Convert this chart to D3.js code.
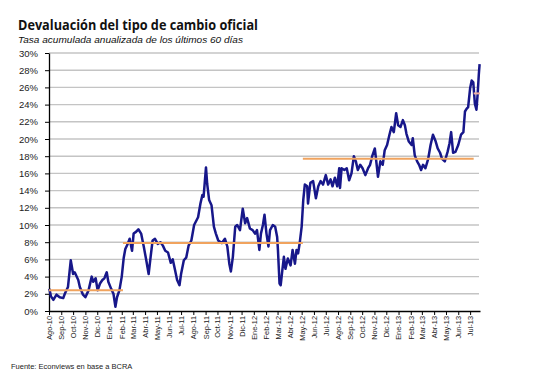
<!DOCTYPE html>
<html>
<head>
<meta charset="utf-8">
<script src="https://cdn.jsdelivr.net/npm/d3@7"></script>
<style>
  body { margin: 0; background: #fff; }
  svg { display: block; }
</style>
</head>
<body>
<div id="chart"></div>
<script>
// devaluacion anualizada (60 dias), %
var fechas = [
  "2010-08-02","2010-08-06","2010-08-12","2010-08-20","2010-08-28","2010-09-06","2010-09-10","2010-09-18","2010-09-25",
  "2010-10-01","2010-10-05","2010-10-14","2010-10-18","2010-10-26","2010-11-01","2010-11-09","2010-11-17","2010-11-21",
  "2010-11-27","2010-12-02","2010-12-08","2010-12-14","2010-12-19","2010-12-25","2010-12-29","2011-01-05","2011-01-11",
  "2011-01-16","2011-01-20","2011-01-26","2011-02-01","2011-02-06","2011-02-10","2011-02-16","2011-02-21","2011-02-27",
  "2011-03-03","2011-03-09","2011-03-15","2011-03-22","2011-03-29","2011-04-04","2011-04-10","2011-04-15","2011-04-20",
  "2011-04-26","2011-05-03","2011-05-10","2011-05-16","2011-05-22","2011-05-29","2011-06-05","2011-06-10","2011-06-16",
  "2011-06-21","2011-06-27","2011-07-01","2011-07-08","2011-07-14","2011-07-20","2011-07-27","2011-08-03","2011-08-13",
  "2011-08-19","2011-08-24","2011-08-27","2011-09-02","2011-09-05","2011-09-10","2011-09-16","2011-09-22","2011-09-27",
  "2011-10-03","2011-10-12","2011-10-20","2011-10-26","2011-10-31","2011-11-04","2011-11-09","2011-11-15","2011-11-20",
  "2011-11-27","2011-12-04","2011-12-10","2011-12-15","2011-12-22","2011-12-29","2012-01-04","2012-01-09","2012-01-15",
  "2012-01-19","2012-01-24","2012-01-28","2012-02-02","2012-02-07","2012-02-11","2012-02-18","2012-02-24","2012-02-29",
  "2012-03-02","2012-03-06","2012-03-09","2012-03-13","2012-03-17","2012-03-21","2012-03-27","2012-04-03","2012-04-08",
  "2012-04-14","2012-04-18","2012-04-22","2012-04-26","2012-05-01","2012-05-05","2012-05-09","2012-05-15","2012-05-17",
  "2012-05-23","2012-05-30","2012-06-06","2012-06-12","2012-06-18","2012-06-24","2012-07-01","2012-07-07","2012-07-13",
  "2012-07-18","2012-07-24","2012-07-30","2012-08-04","2012-08-06","2012-08-10","2012-08-17","2012-08-23","2012-08-29",
  "2012-09-04","2012-09-10","2012-09-15","2012-09-20","2012-09-26","2012-10-02","2012-10-09","2012-10-16","2012-10-21",
  "2012-10-27","2012-11-02","2012-11-05","2012-11-10","2012-11-16","2012-11-22","2012-11-27","2012-12-03","2012-12-09",
  "2012-12-14","2012-12-20","2012-12-26","2012-12-31","2013-01-06","2013-01-12","2013-01-17","2013-01-21","2013-01-27",
  "2013-02-03","2013-02-06","2013-02-11","2013-02-17","2013-02-22","2013-02-27","2013-03-04","2013-03-10","2013-03-17",
  "2013-03-23","2013-03-29","2013-04-05","2013-04-10","2013-04-16","2013-04-21","2013-04-28","2013-05-05","2013-05-10",
  "2013-05-14","2013-05-19","2013-05-25","2013-06-01","2013-06-08","2013-06-14","2013-06-18","2013-06-22","2013-06-26",
  "2013-07-01","2013-07-05","2013-07-09","2013-07-13","2013-07-17","2013-07-20","2013-07-23","2013-07-25"
];
var valores = [
  2.6, 1.7, 1.3, 1.9, 1.6, 1.5, 2.0, 2.8, 5.9,
  4.3, 4.5, 3.6, 2.8, 1.9, 1.6, 2.4, 4.0, 3.4,
  3.8, 2.4, 3.2, 3.6, 3.8, 4.5, 3.4, 2.6, 2.0,
  0.5, 1.6, 2.4, 4.0, 6.2, 7.2, 7.8, 8.4, 7.0,
  9.0, 9.2, 9.5, 9.0, 7.4, 5.9, 4.3, 6.3, 8.2,
  8.4, 7.8, 8.0, 7.6, 7.0, 6.8, 5.6, 6.0, 4.7,
  3.6, 3.0, 4.3, 5.9, 6.2, 7.6, 8.2, 10.0, 10.9,
  12.5, 13.5, 13.3, 16.7, 14.8, 12.9, 12.3, 9.8, 9.0,
  8.2, 7.9, 8.4, 7.5, 5.5, 4.6, 6.3, 9.8, 10.0,
  9.4, 11.9, 10.2, 10.8, 9.6, 9.4, 9.0, 9.4, 7.1,
  9.0, 10.0, 11.2, 9.0, 7.5, 9.4, 10.0, 9.8, 8.6,
  7.1, 3.2, 3.0, 4.7, 6.3, 4.9, 6.1, 5.3, 7.1,
  5.5, 7.1, 6.7, 7.9, 9.8, 12.9, 14.7, 14.5, 12.5,
  14.9, 15.1, 13.1, 14.5, 15.1, 14.7, 15.8, 14.7, 15.3,
  14.5, 15.5, 14.5, 16.6, 14.3, 16.6, 16.4, 16.6, 15.2,
  16.0, 18.0, 17.4, 16.4, 17.0, 16.6, 15.8, 16.6, 17.0,
  18.1, 18.9, 17.7, 15.6, 17.4, 17.0, 18.7, 19.3, 20.5,
  21.4, 20.8, 23.0, 21.6, 21.4, 22.2, 21.6, 20.6, 19.7,
  19.3, 20.1, 18.1, 17.4, 17.0, 16.4, 17.0, 16.6, 17.7,
  19.3, 20.5, 19.7, 18.9, 18.4, 17.7, 17.4, 18.5, 19.5,
  20.8, 18.4, 18.5, 19.3, 20.5, 20.8, 23.2, 23.5, 23.7,
  25.9, 26.8, 26.6, 24.1, 23.4, 25.2, 27.5, 28.7
];
// promedios por periodo (lineas naranjas)
var promInicio = ["2010-08-01", "2011-02-04", "2012-05-04", "2013-07-10"];
var promFin    = ["2011-02-04", "2012-05-04", "2013-07-10", "2013-07-26"];
var promValor  = [2.4, 7.9, 17.7, 25.3];

var yTicks = [0, 2, 4, 6, 8, 10, 12, 14, 16, 18, 20, 22, 24, 26, 28, 30];
var meses = ["Ene", "Feb", "Mar", "Abr", "May", "Jun", "Jul", "Ago", "Sep", "Oct", "Nov", "Dic"];

var W = 533, H = 385;
var mLeft = 49, mRight = 480, mTop = 53, mBottom = 311;

var parse = d3.timeParse("%Y-%m-%d");
var serie = fechas.map(function (f, i) { return { fecha: parse(f), valor: valores[i] }; });

var svg = d3.select("#chart").append("svg")
    .attr("width", W)
    .attr("height", H);

var x = d3.scaleTime()
    .domain([parse("2010-08-01"), parse("2013-07-26")])
    .range([mLeft, mRight]);

var y = d3.scaleLinear()
    .domain([0, 30])
    .range([mBottom, mTop]);

// titulo
svg.append("text")
    .attr("x", 18).attr("y", 30)
    .attr("font-family", "'Open Sans', 'Liberation Sans', sans-serif")
    .attr("font-weight", "bold")
    .attr("font-size", 13.5)
    .attr("textLength", 240)
    .attr("lengthAdjust", "spacingAndGlyphs")
    .attr("fill", "#111")
    .text("Devaluación del tipo de cambio oficial");

svg.append("text")
    .attr("x", 18).attr("y", 43)
    .attr("font-family", "'Liberation Sans', sans-serif")
    .attr("font-style", "italic")
    .attr("font-size", 9.5)
    .attr("textLength", 225)
    .attr("lengthAdjust", "spacingAndGlyphs")
    .attr("fill", "#111")
    .text("Tasa acumulada anualizada de los últimos 60 días");

// lineas de grilla
svg.append("g")
    .selectAll("line")
    .data(yTicks.filter(function (d) { return d > 0; }))
    .enter()
    .append("line")
    .attr("x1", mLeft)
    .attr("x2", mRight - 1)
    .attr("y1", function (d) { return y(d); })
    .attr("y2", function (d) { return y(d); })
    .attr("stroke", "#c4c4c4")
    .attr("stroke-width", 1.4);

// eje y
var ejeY = svg.append("g")
    .attr("transform", "translate(" + mLeft + ",0)")
    .call(d3.axisLeft(y).tickValues(yTicks).tickFormat(function (d) { return d + "%"; })
        .tickSize(4).tickSizeOuter(0).tickPadding(7));
ejeY.selectAll("text")
    .attr("font-family", "'Liberation Sans', sans-serif")
    .attr("font-size", 9.5)
    .attr("fill", "#222");
ejeY.select(".domain").attr("stroke", "#000").attr("stroke-width", 1.3);
ejeY.selectAll(".tick line").attr("stroke", "#000");

// eje x
var ejeX = svg.append("g")
    .attr("transform", "translate(0," + mBottom + ")")
    .call(d3.axisBottom(x)
        .tickValues(d3.timeMonth.range(parse("2010-08-01"), parse("2013-07-26")))
        .tickFormat(function (d) { return meses[d.getMonth()] + "-" + d3.format("02")(d.getFullYear() % 100); })
        .tickSize(4).tickSizeOuter(0));
ejeX.selectAll("text")
    .attr("font-family", "'Liberation Sans', sans-serif")
    .attr("font-size", 7.4)
    .attr("fill", "#222")
    .attr("text-anchor", "end")
    .attr("transform", "rotate(-90)")
    .attr("x", -5)
    .attr("y", 0)
    .attr("dy", "0.33em");
ejeX.select(".domain").attr("stroke", "#000").attr("stroke-width", 1.3);
ejeX.selectAll(".tick line").attr("stroke", "#000");

// serie
var linea = d3.line()
    .x(function (d) { return x(d.fecha); })
    .y(function (d) { return y(d.valor); });

svg.append("path")
    .datum(serie)
    .attr("d", linea)
    .attr("fill", "none")
    .attr("stroke", "#17178a")
    .attr("stroke-width", 2.5)
    .attr("stroke-linejoin", "round");

// promedios
svg.append("g")
    .selectAll("line")
    .data(promValor)
    .enter()
    .append("line")
    .attr("x1", function (d, i) { return x(parse(promInicio[i])); })
    .attr("x2", function (d, i) { return x(parse(promFin[i])); })
    .attr("y1", function (d) { return y(d); })
    .attr("y2", function (d) { return y(d); })
    .attr("stroke", function (d, i) { return i === 3 ? "#f3b0a0" : "#f0a35e"; })
    .attr("stroke-width", 2);

// fuente
svg.append("text")
    .attr("x", 11).attr("y", 369)
    .attr("font-family", "'Liberation Sans', sans-serif")
    .attr("font-size", 7.5)
    .attr("fill", "#222")
    .text("Fuente: Econviews en base a BCRA");
</script>
</body>
</html>
